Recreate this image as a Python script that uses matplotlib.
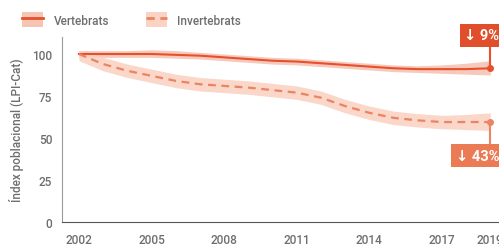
import numpy as np
import matplotlib.pyplot as plt
from matplotlib.lines import Line2D
from matplotlib.patches import Patch

plt.rcParams['font.family'] = ['Roboto', 'DejaVu Sans']

years = list(range(2002, 2020))
vert = [100, 100, 100, 100, 99.5, 99, 98, 97, 96, 95.5, 94.5, 93.5, 92.5, 91.5, 91, 91, 91, 91.5]
vert_lo = [98, 98, 98, 98, 97.5, 97, 96, 95, 94, 93.5, 92.5, 91.5, 90.5, 89.5, 89, 88.5, 88, 87.5]
vert_hi = [102, 102, 102, 102.5, 102, 101, 100, 99, 98, 97.5, 96.5, 95.5, 94.5, 93.5, 93, 93.5, 94.5, 96]
invert = [100, 94, 90, 87, 84, 82, 81, 80, 78.5, 77, 74, 69, 65, 62, 60.5, 59.5, 59.5, 59.5]
invert_lo = [96, 90, 86, 83, 80, 78, 77, 76, 74.5, 73, 70, 65, 61, 58, 56.5, 55.5, 55, 54.5]
invert_hi = [102, 98, 94, 91, 88, 86, 85, 84, 82.5, 81, 78, 73, 69, 66, 64.5, 63.5, 64, 65]
xticks = [2002, 2005, 2008, 2011, 2014, 2017, 2019]
yticks = [0, 25, 50, 75, 100]

c_vert = '#E5512D'
c_vert_band = '#F6C4B3'
c_inv = '#EB8462'
c_inv_band = '#FAD3C4'
grey = '#6E6E6E'

fig = plt.figure(figsize=(4.99, 2.51), dpi=100)
ax = fig.add_axes([62 / 499, 1 - 223 / 251, 1 - 62 / 499, (223 - 38.2) / 251])

ax.fill_between(years, vert_lo, vert_hi, color=c_vert_band, lw=0, alpha=0.9)
ax.fill_between(years, invert_lo, invert_hi, color=c_inv_band, lw=0, alpha=0.9)
ax.plot(years, vert, color=c_vert, lw=1.5)
ax.plot(years, invert, color=c_inv, lw=1.6, dashes=(3.5, 2.5))
ax.plot(years[-1], vert[-1], 'o', color=c_vert, ms=4, clip_on=False)
ax.plot(years[-1], invert[-1], 'o', color=c_inv, ms=4, clip_on=False)

ax.set_xlim(2001.3, 2019.36)
ax.set_ylim(0, 110)
ax.set_xticks(xticks)
ax.set_yticks(yticks)
ax.tick_params(length=0, labelsize=8.5, labelcolor=grey, pad=8)
ax.tick_params(axis='y', pad=7)
for t in ax.get_xticklabels() + ax.get_yticklabels():
    t.set_fontweight('medium')
for s in ['top', 'right']:
    ax.spines[s].set_visible(False)
ax.spines['left'].set_color('#9a9a9a')
ax.spines['bottom'].set_color('#555555')
ax.set_ylabel('Índex poblacional (LPI-Cat)', color=grey, fontsize=8.5, labelpad=6,
              fontweight='medium')

# labels with connector lines
ax.plot([years[-1], years[-1]], [vert[-1], 106], color=c_vert, lw=1.5, clip_on=False)
ax.text(2019.36, 107, '\u2193 9%', ha='right', va='bottom', fontsize=10.5, fontweight='bold',
        color='white', bbox=dict(boxstyle='square,pad=0.3', fc='#E04E2B', ec='none'),
        clip_on=False)
ax.plot([years[-1], years[-1]], [invert[-1], 45], color=c_inv, lw=1.5, clip_on=False)
ax.text(2019.36, 39.5, '\u2193 43%', ha='right', va='center', fontsize=10.5, fontweight='bold',
        color='white', bbox=dict(boxstyle='square,pad=0.3', fc='#EB7B55', ec='none'),
        clip_on=False)

# legend
handles = [(Patch(fc=c_vert_band, ec='none'), Line2D([], [], color=c_vert, lw=2)),
           (Patch(fc=c_inv_band, ec='none'), Line2D([], [], color=c_inv, lw=2, dashes=(3, 2)))]
leg = fig.legend(handles, ['Vertebrats', 'Invertebrats'], loc='upper left',
                 bbox_to_anchor=(0.022, 0.99), ncol=2, frameon=False, fontsize=8.5,
                 handlelength=1.8, handleheight=1.6, columnspacing=3.1, handletextpad=0.9)
for t in leg.get_texts():
    t.set_color(grey)
    t.set_fontweight('medium')

fig.savefig('out.png', dpi=100)
